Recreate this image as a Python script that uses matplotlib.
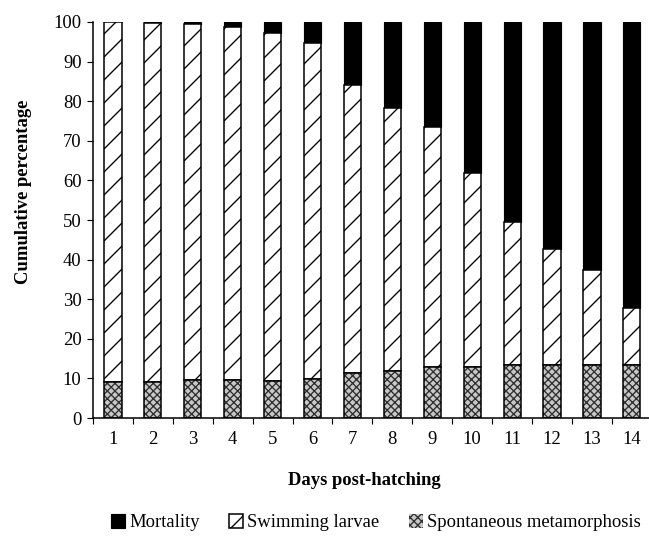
import matplotlib
matplotlib.use('Agg')
import matplotlib.pyplot as plt
import numpy as np

# values (percent)
days = list(range(1, 15))
spontaneous = [9.2, 9.2, 9.5, 9.5, 9.3, 9.8, 11.5, 11.8, 13.0, 13.0, 13.5, 13.5, 13.5, 13.5]
top_swimming = [100.0, 99.8, 99.5, 98.7, 97.3, 94.8, 84.2, 78.3, 73.5, 61.8, 49.5, 42.8, 37.5, 27.8]

swimming = [t - s for t, s in zip(top_swimming, spontaneous)]
mortality = [100.0 - t for t in top_swimming]

DPI = 138  # hatch spacing in agg follows dpi
plt.rcParams['font.family'] = ['Liberation Serif', 'DejaVu Serif']
plt.rcParams['hatch.linewidth'] = 0.7

fig = plt.figure(figsize=(649 / DPI, 536 / DPI), dpi=DPI)
ax = fig.add_axes([0.1433, 0.220, 0.861, 0.739])

x = np.array(days)
w = 0.43
fs = 9.7

b1 = ax.bar(x, mortality, w, bottom=top_swimming, color='black', edgecolor='black',
            linewidth=0.6, label='Mortality')
b2 = ax.bar(x, swimming, w, bottom=spontaneous, color='white', edgecolor='black',
            hatch='//', linewidth=0.8, label='Swimming larvae')
b3 = ax.bar(x, spontaneous, w, color='#c8c8c8', edgecolor='#303030',
            hatch='xxxxxx', linewidth=0, label='Spontaneous metamorphosis')
ax.bar(x, spontaneous, w, fill=False, edgecolor='black', linewidth=0.8)

ax.set_xlim(0.5, 14.5)
ax.set_ylim(0, 100)
ax.set_yticks(range(0, 101, 10))
ax.set_xticks(x)
ax.set_xticks(np.arange(0.5, 14.6, 1), minor=True)
ax.tick_params(axis='x', which='major', length=0, pad=7, labelsize=fs)
ax.tick_params(axis='x', which='minor', length=3, width=0.6, direction='out')
ax.tick_params(axis='y', length=3, width=0.6, direction='out', pad=3, labelsize=fs)

for s in ['top', 'right']:
    ax.spines[s].set_visible(False)
for s in ['left', 'bottom']:
    ax.spines[s].set_linewidth(0.8)

ax.set_ylabel('Cumulative percentage', fontsize=fs, fontweight='bold')
ax.set_xlabel('Days post-hatching', fontsize=fs, fontweight='bold')
ax.yaxis.set_label_coords(-0.109, 0.57)
ax.xaxis.set_label_coords(0.485, -0.135)

fig.legend(handles=[b1, b2, b3], loc='center', bbox_to_anchor=(0.579, 0.025),
           ncol=3, frameon=False, fontsize=fs, handlelength=0.75, handleheight=0.75,
           handletextpad=0.2, columnspacing=1.6)

fig.savefig('out.png', dpi=DPI)
